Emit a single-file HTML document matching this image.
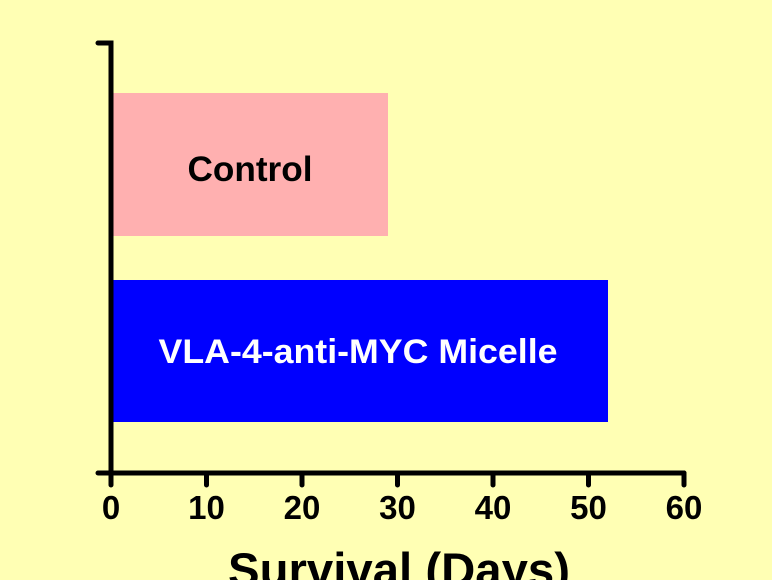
<!DOCTYPE html>
<html><head><style>html,body{margin:0;padding:0;background:#ffffb4;}svg{display:block}</style></head>
<body>
<svg width="772" height="580" viewBox="0 0 772 580" xmlns="http://www.w3.org/2000/svg">
<rect width="772" height="580" fill="#ffffb4"/>
<rect x="113" y="93" width="275" height="143" fill="#ffb0b0"/>
<rect x="113" y="280" width="495" height="142" fill="#0000ff"/>
<g stroke="#000" stroke-width="5" stroke-linecap="round" fill="none">
<path d="M98 43 H111 V473"/>
<path d="M98 473 H684"/>
<path d="M111 473 V485 M206.5 473 V485 M302 473 V485 M397.5 473 V485 M493 473 V485 M588.5 473 V485 M684 473 V485"/>
</g>
<g font-family="Liberation Sans, sans-serif" font-weight="bold" text-anchor="middle">
<text x="250" y="181" font-size="35" fill="#000" textLength="125" lengthAdjust="spacingAndGlyphs">Control</text>
<text x="358" y="363" font-size="34" fill="#fff" textLength="399" lengthAdjust="spacingAndGlyphs">VLA-4-anti-MYC Micelle</text>
<g font-size="33" fill="#000">
<text x="111" y="519">0</text><text x="206.5" y="519">10</text><text x="302" y="519">20</text><text x="397.5" y="519">30</text><text x="493" y="519">40</text><text x="588.5" y="519">50</text><text x="684" y="519">60</text>
</g>
<text x="399" y="586" font-size="47" fill="#000" textLength="342" lengthAdjust="spacingAndGlyphs">Survival (Days)</text>
</g>
</svg>
</body></html>
